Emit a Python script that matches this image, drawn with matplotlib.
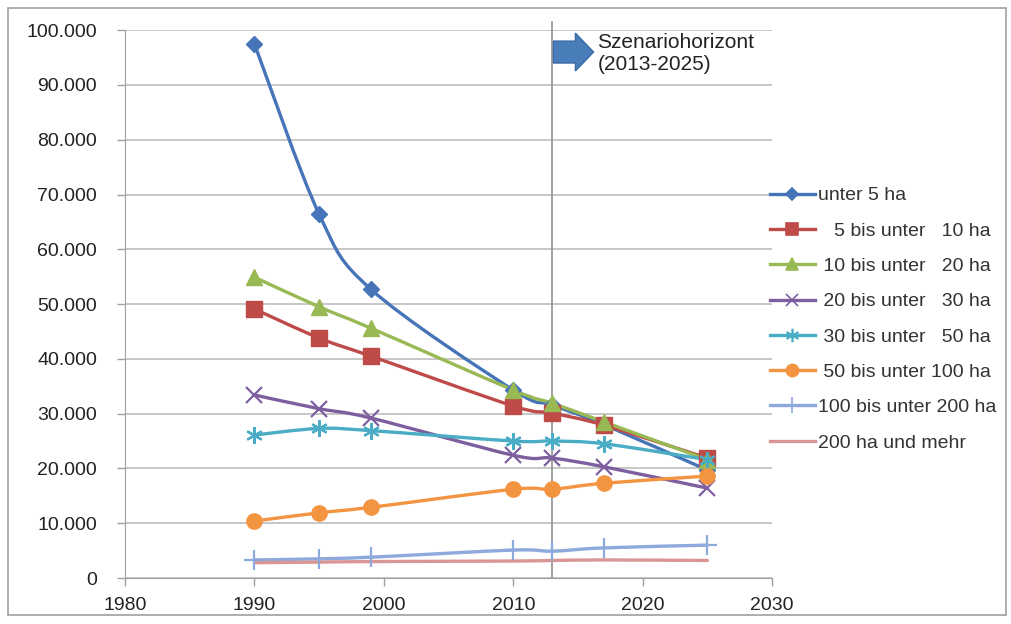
import matplotlib
matplotlib.use("Agg")
import matplotlib.pyplot as plt
import numpy as np
from matplotlib.path import Path
from matplotlib.patches import PathPatch, FancyArrow, Rectangle
from matplotlib.ticker import FuncFormatter
from matplotlib.lines import Line2D

plt.rcParams['font.family'] = ['Liberation Sans', 'DejaVu Sans']

years = [1990, 1995, 1999, 2010, 2013, 2017, 2025]
labels = ["unter 5 ha", "   5 bis unter   10 ha", " 10 bis unter   20 ha", " 20 bis unter   30 ha",
          " 30 bis unter   50 ha", " 50 bis unter 100 ha", "100 bis unter 200 ha", "200 ha und mehr"]
unter5 = [97500, 66400, 52700, 34300, 31600, 28000, 19700]
b5_10 = [49100, 43800, 40500, 31400, 30100, 27900, 21900]
b10_20 = [54900, 49500, 45600, 34300, 31900, 28500, 21600]
b20_30 = [33400, 30900, 29200, 22400, 21900, 20300, 16400]
b30_50 = [26100, 27300, 26900, 25000, 25000, 24500, 21600]
b50_100 = [10400, 11900, 12900, 16200, 16200, 17300, 18600]
b100_200 = [3300, 3500, 3800, 5100, 4900, 5500, 6000]
b200 = [2800, 2900, 3000, 3100, 3200, 3300, 3200]
series = [unter5, b5_10, b10_20, b20_30, b30_50, b50_100, b100_200, b200]

colors = ['#4674B8', '#BE4B48', '#98B954', '#7D5FA0', '#4AACC5', '#F39441', '#8EA9DB', '#D99694']
markers = ['D', 's', '^', 'x', (6, 2, 0), 'o', '+', None]
msizes = [8, 11, 11, 11, 12, 11, 14, 0]

fig = plt.figure(figsize=(10.12, 6.24), dpi=100)
ax = fig.add_axes([0.1235, 0.0737, 0.6395, 0.878])

def smooth_path(x, y, t=1/6):
    x = np.asarray(x, float); y = np.asarray(y, float)
    n = len(x)
    verts = [(x[0], y[0])]
    codes = [Path.MOVETO]
    for i in range(n - 1):
        p0 = np.array([x[max(i-1, 0)], y[max(i-1, 0)]])
        p1 = np.array([x[i], y[i]])
        p2 = np.array([x[i+1], y[i+1]])
        p3 = np.array([x[min(i+2, n-1)], y[min(i+2, n-1)]])
        c1 = p1 + (p2 - p0) * t
        c2 = p2 - (p3 - p1) * t
        verts += [tuple(c1), tuple(c2), tuple(p2)]
        codes += [Path.CURVE4] * 3
    return Path(verts, codes)

handles = []
for s, c, m, ms, lab in zip(series, colors, markers, msizes, labels):
    patch = PathPatch(smooth_path(years, s), facecolor='none', edgecolor=c, lw=2.4, zorder=3,
                      capstyle='round', joinstyle='round')
    ax.add_patch(patch)
    if m is not None:
        mew = 1.6 if m in ('x', '+') or isinstance(m, tuple) else 1
        ax.plot(years, s, linestyle='none', marker=m, color=c, markersize=ms,
                markeredgewidth=mew, markeredgecolor=c, zorder=4)
    handles.append(Line2D([], [], color=c, lw=2.4, marker=m if m else None,
                          markersize=ms * 0.8 if m else 0, markeredgewidth=1.2, label=lab))

ax.set_xlim(1980, 2030)
ax.set_ylim(0, 100000)
ax.set_xticks(range(1980, 2031, 10))
ax.set_yticks(range(0, 100001, 10000))
ax.yaxis.set_major_formatter(FuncFormatter(lambda v, p: f"{int(v):,}".replace(',', '.')))
ax.grid(axis='y', color='#BEBEBE', lw=1.2)
ax.set_axisbelow(True)
for sp in ['top', 'right']:
    ax.spines[sp].set_visible(False)
for sp in ['left', 'bottom']:
    ax.spines[sp].set_color('#A0A0A0')
ax.tick_params(axis='both', colors='#A0A0A0', labelcolor='#222222', labelsize=14, length=6, width=1)
ax.tick_params(axis='y', pad=14)
ax.tick_params(axis='x', pad=8)

ax.axvline(2013, color='#909090', lw=1.2, zorder=2, ymax=1.015, clip_on=False)

arrow = FancyArrow(2013.1, 96000, 1.7, 0, width=4000, head_width=6900, head_length=1.4,
                   length_includes_head=False, color='#4A7EBB', ec='#3A6AA5', zorder=5)
ax.add_patch(arrow)
ax.text(2016.5, 95800, "Szenariohorizont\n(2013-2025)", fontsize=15, va='center', ha='left',
        color='#222222', linespacing=1.2)

leg = fig.legend(handles=handles, loc='upper left', bbox_to_anchor=(0.761, 0.7006), frameon=False,
                 handlelength=2.3, handletextpad=0.15, labelspacing=0.91, borderpad=0,
                 borderaxespad=0, prop={'size': 14})
for t in leg.get_texts():
    t.set_color('#333333')

fig.patches.append(Rectangle((0.008, 0.015), 0.986, 0.972, transform=fig.transFigure,
                             fill=False, edgecolor='#A0A0A0', lw=1.2))

fig.savefig("out.png", dpi=100)
